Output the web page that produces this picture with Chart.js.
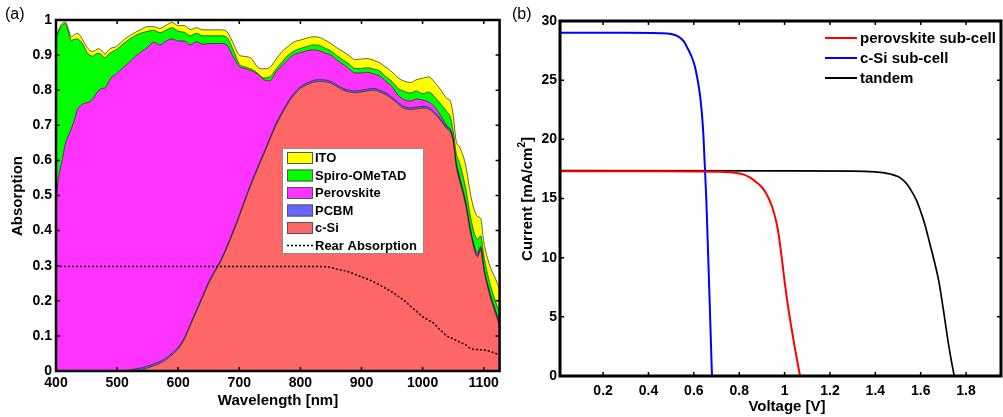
<!DOCTYPE html>
<html>
<head>
<meta charset="utf-8">
<script src="https://cdn.jsdelivr.net/npm/chart.js@4.4.1/dist/chart.umd.min.js"></script>
<style>
  html, body { margin: 0; padding: 0; background: #fff; }
  #wrap { position: relative; width: 1003px; height: 417px; overflow: hidden; background: #fff; }
  #wrap canvas { position: absolute; top: 0; }
</style>
</head>
<body>
<div id="wrap">
  <canvas id="chart-a" width="503" height="417" style="left:0px"></canvas>
  <canvas id="chart-b" width="500" height="417" style="left:503px"></canvas>
</div>
<script>
  var wavelength = [400,405,410,415,420,425,430,435,440,445,450,455,460,465,470,475,480,485,490,495,500,
    510,520,530,540,550,560,570,580,590,600,610,620,630,640,650,660,670,680,690,700,
    710,720,730,740,750,760,770,780,790,800,810,820,830,840,850,860,870,880,890,900,
    910,920,930,940,950,960,970,980,990,1000,1010,1020,1030,1040,
    1045,1050,1055,1060,1070,1080,1090,1095,1100,1110,1120,1126];

  var cumCSi = [0,0,0,0,0,0,0,0,0,0,0,0,0,0,0,0,0,0,0,0,0,
    0,0,0.001,0.004,0.009,0.015,0.022,0.032,0.046,0.063,0.09,0.13,0.17,0.21,0.25,0.282,0.313,0.352,0.395,0.44,
    0.488,0.534,0.576,0.617,0.659,0.70,0.733,0.763,0.787,0.805,0.815,0.822,0.825,0.824,0.82,0.81,0.80,0.795,0.793,0.795,
    0.798,0.80,0.795,0.787,0.775,0.76,0.748,0.745,0.747,0.749,0.746,0.732,0.712,0.69,
    0.682,0.654,0.583,0.545,0.476,0.38,0.325,0.345,0.29,0.215,0.16,0.127];

  var cumPCBM = [0,0,0,0,0,0,0,0,0,0,0,0,0,0,0,0,0,0,0,0,0,
    0.001,0.003,0.006,0.009,0.014,0.02,0.027,0.037,0.051,0.068,0.095,0.135,0.175,0.215,0.255,0.287,0.318,0.357,0.40,0.445,
    0.493,0.539,0.581,0.622,0.664,0.705,0.738,0.768,0.792,0.81,0.82,0.827,0.83,0.829,0.825,0.815,0.805,0.80,0.798,0.80,
    0.803,0.805,0.80,0.792,0.78,0.765,0.753,0.75,0.752,0.754,0.751,0.737,0.717,0.695,
    0.687,0.659,0.588,0.55,0.481,0.385,0.33,0.35,0.295,0.22,0.165,0.132];

  var cumPerovskite = [0.49,0.56,0.60,0.645,0.67,0.69,0.715,0.745,0.755,0.762,0.764,0.767,0.775,0.788,0.80,0.805,0.806,0.82,0.835,0.842,0.848,
    0.865,0.88,0.897,0.91,0.922,0.937,0.929,0.94,0.946,0.94,0.94,0.929,0.938,0.931,0.933,0.933,0.933,0.928,0.895,0.868,
    0.861,0.855,0.846,0.83,0.827,0.852,0.87,0.888,0.902,0.907,0.912,0.915,0.913,0.906,0.90,0.885,0.874,0.86,0.849,0.849,
    0.851,0.846,0.84,0.825,0.81,0.785,0.773,0.769,0.775,0.772,0.766,0.752,0.726,0.698,
    0.69,0.662,0.595,0.558,0.487,0.39,0.336,0.355,0.298,0.224,0.17,0.137];

  var cumSpiro = [0.948,0.97,0.985,0.99,0.968,0.942,0.945,0.946,0.94,0.928,0.91,0.90,0.897,0.903,0.905,0.90,0.892,0.90,0.907,0.912,0.917,
    0.932,0.945,0.956,0.963,0.968,0.971,0.964,0.971,0.978,0.968,0.965,0.955,0.962,0.955,0.955,0.955,0.955,0.95,0.915,0.875,
    0.866,0.86,0.848,0.835,0.838,0.86,0.88,0.90,0.912,0.919,0.924,0.929,0.928,0.92,0.912,0.898,0.886,0.874,0.862,0.862,
    0.864,0.86,0.855,0.838,0.825,0.805,0.797,0.792,0.798,0.79,0.795,0.78,0.76,0.738,
    0.725,0.685,0.62,0.595,0.525,0.425,0.375,0.385,0.33,0.25,0.195,0.166];

  var cumITO = [0.952,0.975,0.99,0.995,0.976,0.952,0.958,0.962,0.954,0.94,0.924,0.914,0.91,0.914,0.918,0.912,0.903,0.912,0.92,0.922,0.926,
    0.942,0.955,0.965,0.974,0.981,0.981,0.976,0.985,0.993,0.984,0.984,0.973,0.978,0.972,0.972,0.972,0.972,0.966,0.934,0.90,
    0.896,0.89,0.866,0.861,0.865,0.888,0.91,0.925,0.938,0.943,0.948,0.952,0.951,0.943,0.933,0.92,0.91,0.898,0.887,0.889,
    0.89,0.885,0.878,0.865,0.852,0.835,0.826,0.822,0.83,0.834,0.838,0.822,0.80,0.776,
    0.77,0.73,0.655,0.64,0.59,0.49,0.44,0.435,0.37,0.30,0.26,0.232];

  var rearWl = [400,600,800,840,850,860,870,880,890,900,910,920,930,940,950,960,970,980,990,1000,
    1010,1020,1030,1040,1050,1060,1070,1080,1090,1100,1110,1120,1126];
  var rearAbs = [0.298,0.298,0.298,0.297,0.295,0.29,0.287,0.282,0.275,0.268,0.262,0.254,0.245,0.235,0.225,0.213,0.2,0.185,0.17,0.155,
    0.145,0.133,0.115,0.10,0.092,0.083,0.075,0.063,0.061,0.06,0.056,0.05,0.047];

  var wlTicks = [400,500,600,700,800,900,1000,1100];
  var absTicks = [0,0.1,0.2,0.3,0.4,0.5,0.6,0.7,0.8,0.9,1];

  // ---- panel (b): J-V curves ----
  var vPerovskite = [0.01,0.4,0.6,0.7,0.76,0.8,0.82,0.84,0.86,0.88,0.9,0.915,0.93,0.945,0.96,0.97,0.98,0.99,1.0,1.015,1.03,1.045,1.06,1.068];
  var jPerovskite = [17.3,17.3,17.29,17.27,17.22,17.12,17.02,16.85,16.62,16.32,15.95,15.55,15.0,14.3,13.3,12.4,11.1,9.6,8.0,5.9,4.1,2.4,0.85,0];
  var vSilicon = [0.01,0.3,0.45,0.5,0.53,0.555,0.575,0.59,0.604,0.615,0.626,0.635,0.642,0.648,0.655,0.66,0.665,0.67,0.675,0.68];
  var jSilicon = [29.0,29.0,28.97,28.9,28.7,28.3,27.6,27.0,26.2,25.2,23.9,22.3,20.4,17.9,14.9,12.0,9.1,6.1,3.0,0];
  var vTandem = [0.01,1.0,1.3,1.4,1.44,1.47,1.5,1.52,1.54,1.56,1.58,1.6,1.62,1.64,1.66,1.68,1.70,1.72,1.735,1.748];
  var jTandem = [17.35,17.34,17.32,17.25,17.17,17.05,16.85,16.6,16.2,15.6,14.9,13.9,12.7,11.2,9.7,8.0,5.6,3.0,1.3,0];

  var voltTicks = [0.2,0.4,0.6,0.8,1,1.2,1.4,1.6,1.8];
  var currentTicks = [0,5,10,15,20,25,30];

  var FONT = 'Liberation Sans, Arial, Helvetica, sans-serif';
  var edge = 'rgba(0,0,0,0.75)';

  function xy(xs, ys) {
    return xs.map(function(x, i) { return {x: x, y: ys[i]}; });
  }
  function fixedTicks(values) {
    return function(scale) {
      scale.ticks = values.map(function(v) { return {value: v}; });
    };
  }
  function plainLabel(v) { return String(Math.round(v * 10) / 10); }

  // frame + inward tick marks on all four sides
  var panelFrame = {
    id: 'panelFrame',
    afterDatasetsDraw: function(chart, args, o) {
      var ctx = chart.ctx, a = chart.chartArea, sx = chart.scales.x, sy = chart.scales.y;
      ctx.save();
      ctx.strokeStyle = '#000';
      ctx.lineWidth = o.tickWidth;
      ctx.beginPath();
      sx.ticks.forEach(function(t) {
        var p = sx.getPixelForValue(t.value);
        ctx.moveTo(p, a.bottom); ctx.lineTo(p, a.bottom - o.tickLen);
        ctx.moveTo(p, a.top); ctx.lineTo(p, a.top + o.tickLen);
      });
      sy.ticks.forEach(function(t) {
        var p = sy.getPixelForValue(t.value);
        ctx.moveTo(a.left, p); ctx.lineTo(a.left + o.tickLen, p);
        ctx.moveTo(a.right, p); ctx.lineTo(a.right - o.tickLen, p);
      });
      ctx.stroke();
      ctx.lineWidth = o.frameWidth;
      ctx.strokeRect(a.left, a.top, a.right - a.left, a.bottom - a.top);
      ctx.restore();
    }
  };

  // panel letter and axis titles
  var panelText = {
    id: 'panelText',
    afterDraw: function(chart, args, o) {
      var ctx = chart.ctx;
      ctx.save();
      ctx.fillStyle = '#000';
      ctx.font = '16px ' + FONT;
      ctx.textAlign = 'left';
      ctx.textBaseline = 'middle';
      ctx.fillText(o.letter, o.letterX, o.letterY);

      ctx.font = 'bold 15px ' + FONT;
      ctx.textAlign = 'center';
      ctx.fillText(o.xTitle, o.xTitleX, o.xTitleY);

      // vertical title, optional superscript part
      ctx.translate(o.yTitleX, o.yTitleY);
      ctx.rotate(-Math.PI / 2);
      var parts = o.yTitle;
      var widths = parts.map(function(p) {
        ctx.font = 'bold ' + p.size + 'px ' + FONT;
        return ctx.measureText(p.text).width;
      });
      var total = widths.reduce(function(s, w) { return s + w; }, 0);
      var cx = -total / 2;
      ctx.textAlign = 'left';
      parts.forEach(function(p, i) {
        ctx.font = 'bold ' + p.size + 'px ' + FONT;
        ctx.fillText(p.text, cx, p.dy || 0);
        cx += widths[i];
      });
      ctx.restore();
    }
  };

  // boxed legend with patches (panel a)
  var patchLegend = {
    id: 'patchLegend',
    afterDraw: function(chart, args, o) {
      var ctx = chart.ctx;
      var sets = chart.data.datasets;
      ctx.save();
      ctx.fillStyle = '#fff';
      ctx.fillRect(o.left, o.top, o.width, o.height);
      ctx.strokeStyle = '#8c8c8c';
      ctx.lineWidth = 1;
      ctx.strokeRect(o.left + 0.5, o.top + 0.5, o.width, o.height);
      ctx.font = 'bold 13px ' + FONT;
      ctx.textBaseline = 'middle';
      ctx.textAlign = 'left';
      var order = ['ITO', 'Spiro-OMeTAD', 'Perovskite', 'PCBM', 'c-Si', 'Rear Absorption'];
      order.forEach(function(name, i) {
        var ds = sets.filter(function(d) { return d.label === name; })[0];
        var y = o.top + o.firstRow + i * o.rowGap;
        if (ds.fill === false) {
          ctx.strokeStyle = '#000';
          ctx.lineWidth = 1.5;
          ctx.setLineDash([2, 2]);
          ctx.beginPath();
          ctx.moveTo(o.left + 5, y);
          ctx.lineTo(o.left + 31, y);
          ctx.stroke();
          ctx.setLineDash([]);
        } else {
          ctx.fillStyle = ds.backgroundColor;
          ctx.fillRect(o.left + 5, y - 6, 26, 12);
          ctx.strokeStyle = '#555';
          ctx.lineWidth = 1;
          ctx.strokeRect(o.left + 5.5, y - 5.5, 25, 11);
        }
        ctx.fillStyle = '#000';
        ctx.fillText(name, o.left + 33, y + 0.5);
      });
      ctx.restore();
    }
  };

  // line legend without box (panel b)
  var lineLegend = {
    id: 'lineLegend',
    afterDraw: function(chart, args, o) {
      var ctx = chart.ctx;
      ctx.save();
      ctx.font = 'bold 15px ' + FONT;
      ctx.textBaseline = 'middle';
      ctx.textAlign = 'left';
      chart.data.datasets.forEach(function(ds, i) {
        var y = o.top + i * o.rowGap;
        ctx.strokeStyle = ds.borderColor;
        ctx.lineWidth = 2;
        ctx.beginPath();
        ctx.moveTo(o.left, y);
        ctx.lineTo(o.left + 32, y);
        ctx.stroke();
        ctx.fillStyle = '#000';
        ctx.fillText(ds.label, o.left + 35, y + 0.5);
      });
      ctx.restore();
    }
  };

  var tickFont = {family: FONT, size: 14, weight: 'bold'};

  function area(label, data, color, fill) {
    return {
      label: label,
      data: xy(wavelength, data),
      backgroundColor: color,
      borderColor: edge,
      borderWidth: 0.8,
      pointRadius: 0,
      cubicInterpolationMode: 'monotone',
      fill: fill
    };
  }

  new Chart('chart-a', {
    type: 'line',
    data: {
      datasets: [
        area('c-Si', cumCSi, '#FF6666', 'origin'),
        area('PCBM', cumPCBM, '#6666FF', '-1'),
        area('Perovskite', cumPerovskite, '#FF33FF', '-1'),
        area('Spiro-OMeTAD', cumSpiro, '#00FF00', '-1'),
        area('ITO', cumITO, '#FFFF00', '-1'),
        {
          label: 'Rear Absorption',
          data: xy(rearWl, rearAbs),
          borderColor: '#000',
          borderWidth: 1.5,
          borderDash: [2, 2],
          pointRadius: 0,
          cubicInterpolationMode: 'monotone',
          fill: false,
          order: -1
        }
      ]
    },
    options: {
      responsive: false,
      animation: false,
      layout: {padding: {left: 0, right: 3, top: 20, bottom: 0}},
      plugins: {
        legend: {display: false},
        tooltip: {enabled: false},
        panelFrame: {tickLen: 4, tickWidth: 1.5, frameWidth: 2.5},
        panelText: {
          letter: '(a)', letterX: 5, letterY: 15,
          xTitle: 'Wavelength [nm]', xTitleX: 278, xTitleY: 401,
          yTitle: [{text: 'Absorption', size: 15}], yTitleX: 18, yTitleY: 196
        },
        patchLegend: {left: 282, top: 148, width: 141, height: 105, firstRow: 10, rowGap: 17.5}
      },
      scales: {
        x: {
          type: 'linear', min: 400, max: 1126, bounds: 'data',
          grid: {display: false, drawTicks: false},
          border: {display: false},
          ticks: {padding: 4, color: '#000', font: tickFont, maxRotation: 0, callback: plainLabel},
          afterBuildTicks: fixedTicks(wlTicks),
          afterFit: function(s) { s.height = 46; }
        },
        y: {
          min: 0, max: 1, bounds: 'data',
          grid: {display: false, drawTicks: false},
          border: {display: false},
          ticks: {padding: 4, color: '#000', font: tickFont, callback: plainLabel},
          afterBuildTicks: fixedTicks(absTicks),
          afterFit: function(s) { s.width = 56; }
        }
      }
    },
    plugins: [panelFrame, panelText, patchLegend]
  });

  function curve(label, vs, js, color, width) {
    return {
      label: label,
      data: xy(vs, js),
      borderColor: color,
      borderWidth: width,
      pointRadius: 0,
      showLine: true,
      fill: false,
      cubicInterpolationMode: 'monotone'
    };
  }

  new Chart('chart-b', {
    type: 'scatter',
    data: {
      datasets: [
        curve('perovskite sub-cell', vPerovskite, jPerovskite, '#FF0000', 2),
        curve('c-Si sub-cell', vSilicon, jSilicon, '#0000FF', 2),
        curve('tandem', vTandem, jTandem, '#000000', 1.7)
      ]
    },
    options: {
      responsive: false,
      animation: false,
      layout: {padding: {left: 0, right: 2, top: 21, bottom: 0}},
      plugins: {
        legend: {display: false},
        tooltip: {enabled: false},
        panelFrame: {tickLen: 4, tickWidth: 1.5, frameWidth: 3},
        panelText: {
          letter: '(b)', letterX: 9, letterY: 15,
          xTitle: 'Voltage [V]', xTitleX: 284, xTitleY: 407,
          yTitle: [{text: 'Current [mA/cm', size: 15}, {text: '2', size: 10, dy: -6}, {text: ']', size: 15}],
          yTitleX: 25, yTitleY: 199
        },
        lineLegend: {left: 322, top: 38, rowGap: 20}
      },
      scales: {
        x: {
          type: 'linear', min: 0.01, max: 1.954, bounds: 'data',
          grid: {display: false, drawTicks: false},
          border: {display: false},
          ticks: {padding: 7, color: '#000', font: tickFont, maxRotation: 0, callback: plainLabel},
          afterBuildTicks: fixedTicks(voltTicks),
          afterFit: function(s) { s.height = 41; }
        },
        y: {
          min: 0, max: 30, bounds: 'data',
          grid: {display: false, drawTicks: false},
          border: {display: false},
          ticks: {padding: 3, color: '#000', font: tickFont},
          afterBuildTicks: fixedTicks(currentTicks),
          afterFit: function(s) { s.width = 57; }
        }
      }
    },
    plugins: [panelFrame, panelText, lineLegend]
  });
</script>
</body>
</html>
